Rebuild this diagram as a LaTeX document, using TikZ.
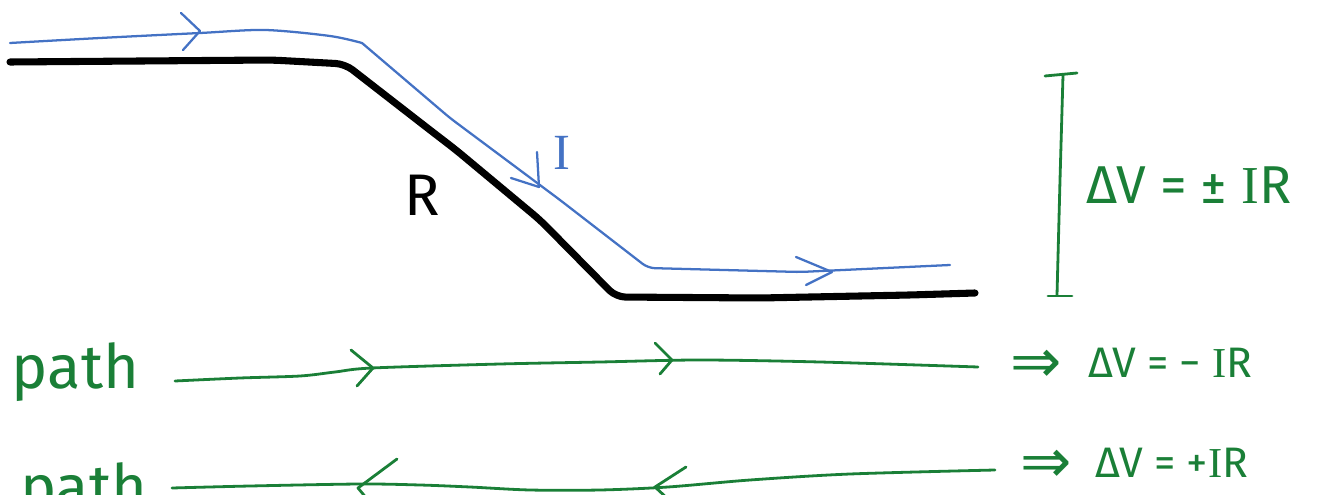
\documentclass[tikz,border=0pt]{standalone}
\usepackage{fontspec}
\setmainfont{Fira Sans}
\newfontfamily\serI{Liberation Serif}
\newfontfamily\symf{DejaVu Sans}
\definecolor{penblue}{HTML}{4472C4}
\definecolor{pengreen}{HTML}{1A7F37}
\begin{document}
\begin{tikzpicture}[x=0.75pt,y=-0.75pt,
  wire/.style={line width=5.3pt,line cap=round,line join=round,rounded corners=7pt},
  current/.style={penblue,line width=1.7pt,line cap=round,line join=round},
  pen/.style={pengreen,line width=2.1pt,line cap=round,line join=round},
  hand/.style={inner sep=0pt,outer sep=0pt},
  bigtxt/.style={hand,font=\fontsize{44}{44}\selectfont},
  eqtxt/.style={hand,pengreen,font=\fontsize{40}{40}\selectfont},
  rowtxt/.style={hand,pengreen,font=\fontsize{32}{32}\selectfont},
  implies/.style={hand,pengreen,font=\fontsize{46}{46}\symf},
  pathtxt/.style={hand,pengreen,font=\fontsize{46}{46}\selectfont}]
\useasboundingbox (0,0) rectangle (1337,495);
\clip (0,0) rectangle (1337,495);

% resistor wire (black)
\draw[wire] (10,62) -- (272,60) -- (345,64) -- (430,130) -- (456,150) -- (540,220) -- (616,297) -- (760,298) -- (910,295) -- (975,293);

% current path (blue)
\draw[current] plot[smooth,tension=0.5] coordinates {(10,43) (100,38) (200,33) (265,30) (330,36) (362,43)};
\draw[current,rounded corners=5pt] (362,43) -- (450,118) -- (560,200) -- (648,268) -- (800,272) -- (950,265);
\draw[current] (181,13) -- (200,31) -- (183,50);
\draw[current] (537,152) -- (539,187) -- (511,178);
\draw[current] (796,257) -- (832,272) -- (806,285);
\node[hand,penblue,font=\fontsize{38}{38}\serI,anchor=base west] (ilabel) at (553,170) {I};
\node[bigtxt,anchor=base west] (rlabel) at (404,215) {R};

% voltage bar (green)
\coordinate (vtop) at (1063,75);
\coordinate (vbot) at (1057,295);
\draw[pen] (vtop) -- (1060,180) -- (vbot);
\draw[pen] (1045,76) -- (1077,73);
\draw[pen] (1048,296) -- (1072,296);
\node[eqtxt,anchor=base west] (dv) at (1086,204) {ΔV = ± {\serI I}R};

% path 1
\node[pathtxt,anchor=base west] (path1) at (12,388) {path};
\draw[pen] plot[smooth,tension=0.5] coordinates {(175,381) (240,378) (300,376) (335,372) (372,368) (500,364) (600,362) (700,360) (820,362) (978,367)};
\draw[pen] (351,350) -- (373,368) -- (357,386);
\draw[pen] (655,343) -- (672,360) -- (660,374);
\node[implies,anchor=base west] (imp1) at (1010,382) {⇒};
\node[rowtxt,anchor=base west] (eq1) at (1088,377) {ΔV = − {\serI I}R};

% path 2
\node[pathtxt,anchor=base west] (path2) at (20,508) {path};
\draw[pen] plot[smooth,tension=0.5] coordinates {(172,488) (250,486) (360,484) (420,485) (470,487) (530,490) (600,490) (668,487) (750,480) (850,474) (995,470)};
\draw[pen] (397,459) -- (358,488) -- (368,500);
\draw[pen] (686,467) -- (655,487) -- (668,499);
\node[implies,anchor=base west] (imp2) at (1020,482) {⇒};
\node[rowtxt,anchor=base west] (eq2) at (1095,477) {ΔV = +{\serI I}R};
\end{tikzpicture}
\end{document}
